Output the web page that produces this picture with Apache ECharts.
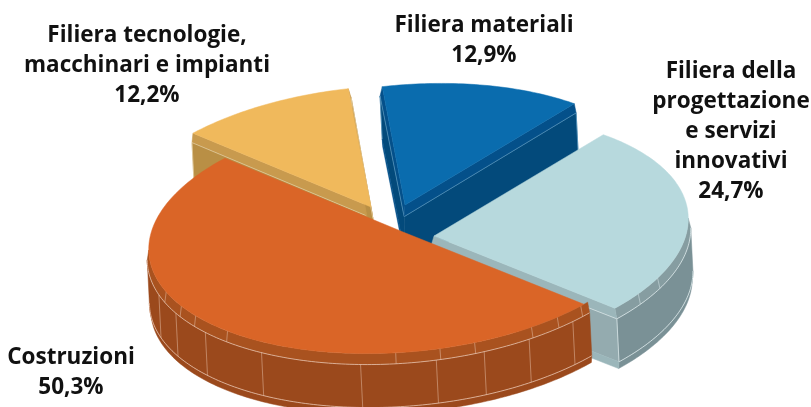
<!DOCTYPE html>
<html>
<head>
<meta charset="utf-8">
<style>
  html, body { margin: 0; padding: 0; background: #fff; }
  #chart { width: 811px; height: 407px; }
</style>
</head>
<body>
<div id="chart"></div>
<script src="https://cdn.jsdelivr.net/npm/echarts@6/dist/echarts.min.js"></script>
<script>
// dati, in senso orario a partire dalla fetta arancione
const categories = ['Costruzioni', 'Filiera tecnologie,\nmacchinari e impianti', 'Filiera materiali', 'Filiera della\nprogettazione\ne servizi\ninnovativi']
const values = [50.3, 12.2, 12.9, 24.7]
const valueLabels = ['50,3%', '12,2%', '12,9%', '24,7%']

// ordine di disegno: dal fondo verso chi guarda
const drawOrder = [1, 2, 3, 0]

const topColors = ['#da6527', '#f0b95c', '#0a6cae', '#b7d9dd']
const bandColors = ['#a9521f', '#c89a4e', '#04508a', '#9bb6ba']
const arcBandColors = ['#a9521f', '#c89a4e', '#04508a', '#869da1']
const wallColors = ['#9b491c', '#b98f45', '#034a7b', '#7a9196']
const sideWallColors = ['#9b491c', '#b98f45', '#034a7b', '#94abaf']
const lineColors = ['#e8c4ae', '#e6d3a8', '#5f9cc4', '#dfecee']

// giunture visibili sulla fascia e sulla parete (angoli in gradi)
const bandSeams = [[48, 55, 62, 76, 84, 94, 136, 147, 153, 161], [], [], [391, 399]]
const wallSeams = [[51, 63, 74, 85, 102, 126, 143, 155, 165], [], [], []]

// posizione delle fette (scostamento dal centro) e delle etichette
const explodeX = [-2, -34, 0, 29]
const explodeY = [7, -18, -20, 11]
const labelX = [71, 147, 484, 731]
const labelY = [373, 66, 41, 132]

const centerX = 405
const centerY = 225
const radiusX = 255
const radiusY = 120
const tilt = 5 * Math.PI / 180
const startAngle = 47
const widen = 0.6 // apertura extra dei lati quasi verticali, in gradi
const bevel = 1.008
const shear = 0.05 // la parete scivola verso destra scendendo
const levels = [0, 10, 53, 60]

const total = values.reduce((a, b) => a + b, 0)
const starts = []
values.reduce((acc, v, i) => {
  starts[i] = acc
  return acc + v / total * 360
}, startAngle)

const rad = d => d * Math.PI / 180

// la prospettiva comprime un po' gli angoli nella metà posteriore del disco
const warp = angle => {
  const a = ((angle - startAngle) % 360 + 360) % 360 + startAngle
  if (a < 228 || a > 407) return angle
  const x = rad((a - 228) / 179 * 180)
  return angle - 4.1 * Math.sin(x) - 1.7 * Math.sin(2 * x)
}

// punto della fetta i sul disco inclinato, abbassato di dy
const proj = (i, angle, scale, dy) => {
  const t = rad(warp(angle))
  const X = radiusX * scale * Math.cos(t)
  const Y = radiusY * scale * Math.sin(t)
  return [
    centerX + explodeX[i] + X * Math.cos(tilt) + Y * Math.sin(tilt) + dy * shear,
    centerY + explodeY[i] - X * Math.sin(tilt) + Y * Math.cos(tilt) + dy
  ]
}

const arc = (i, a0, a1, scale, dy) => {
  const pts = []
  const n = Math.max(2, Math.ceil(Math.abs(a1 - a0)))
  for (let k = 0; k <= n; k++) pts.push(proj(i, a0 + (a1 - a0) * k / n, scale, dy))
  return pts
}

const poly = (points, fill) => ({
  type: 'polygon',
  shape: { points },
  style: { fill, stroke: fill, lineWidth: 0.5 }
})
const line = (points, stroke, width, opacity) => ({
  type: 'polyline',
  shape: { points },
  style: { fill: 'none', stroke, lineWidth: width || 0.8, opacity: opacity || 1 }
})

const nearVertical = angle => Math.abs(Math.cos(rad(angle))) < 0.3

// lato radiale (dal vertice all'angolo)
const sideFace = (i, angle, out, apexOf) => {
  const edge = angle + (nearVertical(angle) ? out * widen : 0)
  const [l0, l1, l2, l3] = levels
  const c = (s, d) => proj(i, edge, s, d)
  return [
    poly([apexOf(0), proj(i, angle, 1, l0), c(bevel, l1), apexOf(l1)], bandColors[i]),
    poly([apexOf(l1), c(bevel, l1), c(bevel, l2), apexOf(l2)], sideWallColors[i]),
    poly([apexOf(l2), c(bevel, l2), c(bevel - 0.004, l3), apexOf(l3)], bandColors[i]),
    line([apexOf(l1), c(bevel, l1)], lineColors[i], 0.7),
    line([c(bevel, l1), c(bevel, l2)], lineColors[i], 0.7)
  ]
}

const renderSlice = (params, api) => {
  const i = api.value(0)
  const a0 = starts[i]
  const a1 = a0 + values[i] / total * 360
  const mid = (a0 + a1) / 2
  const [l0, l1, l2, l3] = levels
  const apex = d => proj(i, mid + 180, d === 0 ? 0 : 0.014, d)
  const children = []

  const startFront = Math.sin(rad(a0 - 90)) > 0
  const endFront = Math.sin(rad(a1 + 90)) > 0
  if (!startFront && nearVertical(a0)) children.push(...sideFace(i, a0, -1, apex))
  if (!endFront && nearVertical(a1)) children.push(...sideFace(i, a1, 1, apex))

  // fascia curva: solo la parte che guarda verso l'osservatore
  const front = []
  for (let a = a0; a < a1; a += 1) {
    if (proj(i, a + 1, 1, 0)[0] < proj(i, a, 1, 0)[0]) front.push(a)
  }
  if (front.length) {
    const f0 = front[0] - (front[0] === a0 ? 1.2 : 0)
    const f1 = Math.min(front[front.length - 1] + 1, a1)
    const strip = (s0, d0, s1, d1, color) =>
      poly(arc(i, f0, f1, s0, d0).concat(arc(i, f1, f0, s1, d1)), color)
    children.push(strip(1, l0, bevel, l1, arcBandColors[i]))
    children.push(strip(bevel, l1, bevel, l2, wallColors[i]))
    children.push(strip(bevel, l2, bevel - 0.004, l3, wallColors[i]))
    children.push(line(arc(i, f0, f1, bevel, l1), lineColors[i]))
    children.push(line(arc(i, f0, f1, bevel, l2), lineColors[i]))
    bandSeams[i].forEach(a => {
      children.push(line([proj(i, a, 1, l0), proj(i, a, bevel, l1)], lineColors[i], 0.7, 0.7))
    })
    wallSeams[i].forEach(a => {
      children.push(line([proj(i, a, bevel, l1), proj(i, a, bevel, l2)], lineColors[i], 0.7, 0.7))
    })
  }

  if (startFront) children.push(...sideFace(i, a0, -1, apex))
  if (endFront) children.push(...sideFace(i, a1, 1, apex))

  // faccia superiore
  children.push(poly([proj(i, mid, 0, 0)].concat(arc(i, a0, a1, 1, 0)), topColors[i]))
  return { type: 'group', children }
}

const chart = echarts.init(document.getElementById('chart'))
chart.setOption({
  animation: false,
  backgroundColor: '#fff',
  series: [{
    type: 'custom',
    coordinateSystem: 'none',
    silent: true,
    data: drawOrder.map(i => [i]),
    renderItem: renderSlice
  }],
  graphic: categories.map((name, i) => ({
    type: 'text',
    x: labelX[i],
    y: labelY[i],
    z: 10,
    style: {
      text: name + '\n' + valueLabels[i],
      font: 'bold 22.5px "Open Sans"',
      fill: '#111',
      align: 'center',
      verticalAlign: 'middle',
      lineHeight: 30
    }
  }))
})
</script>
</body>
</html>
